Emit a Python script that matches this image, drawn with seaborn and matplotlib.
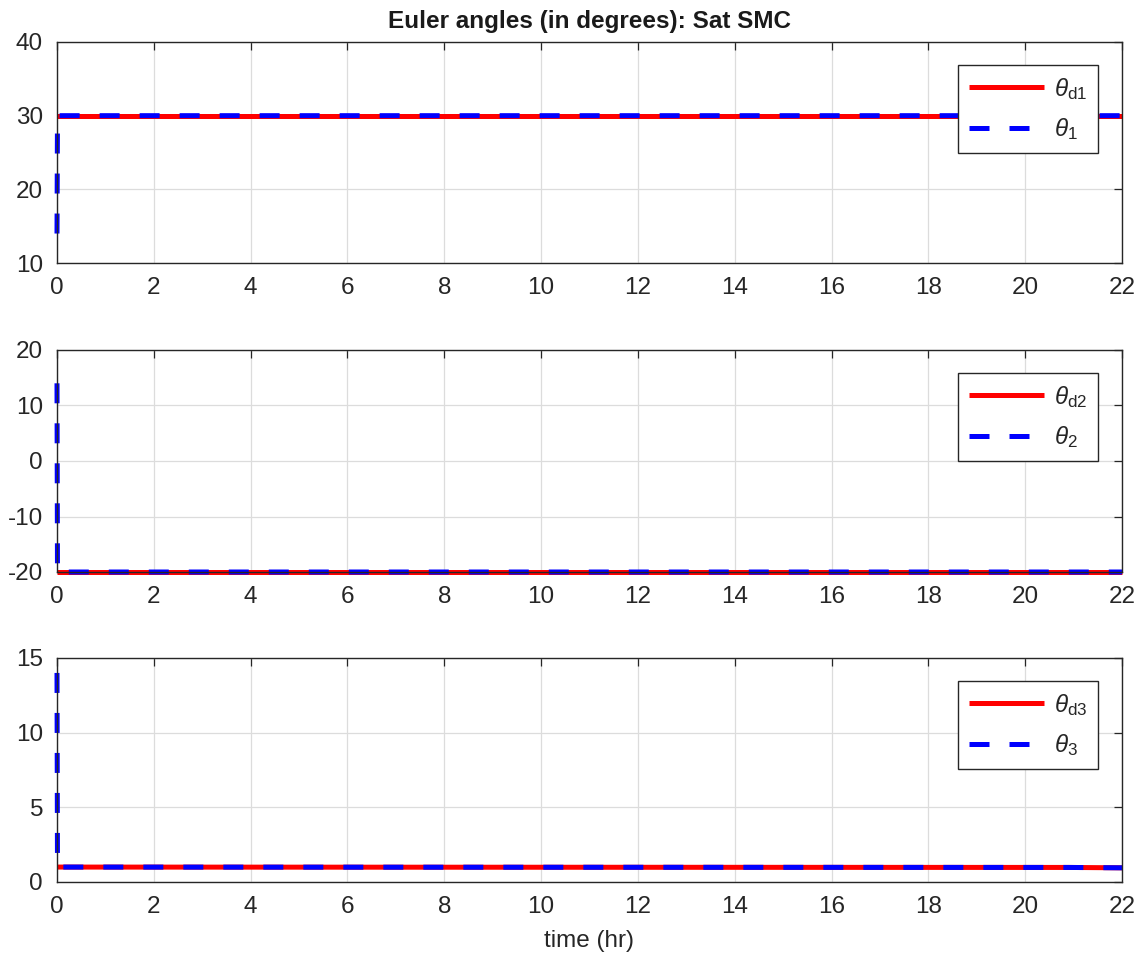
import numpy as np
import pandas as pd
import matplotlib
matplotlib.use("Agg")
import matplotlib.pyplot as plt
import seaborn as sns

# Time grid (hours) for desired and actual attitude
t_des = [0.0, 22.0]
t_act = [0.0, 0.01, 22.0]
t_des3 = [0.0, 20.9, 20.9, 22.0]
t_act3 = [0.0, 0.01, 20.9, 20.9, 22.0]

# Euler angles (degrees)
theta_d1 = [30.0, 30.0]
theta_1 = [14.0, 30.0, 30.0]
theta_d2 = [-20.0, -20.0]
theta_2 = [14.0, -20.0, -20.0]
theta_d3 = [1.0, 1.0, 0.95, 0.95]
theta_3 = [14.0, 1.0, 1.0, 0.95, 0.95]

ylims = [(10, 40), (-20, 20), (0, 15)]
yticks = [[10, 20, 30, 40], [-20, -10, 0, 10, 20], [0, 5, 10, 15]]
xticks = list(range(0, 23, 2))
labels_d = [r"$\theta_{\rm d1}$", r"$\theta_{\rm d2}$", r"$\theta_{\rm d3}$"]
labels_a = [r"$\theta_{1}$", r"$\theta_{2}$", r"$\theta_{3}$"]

sns.set_theme(style="white")
plt.rcParams["font.family"] = ["Liberation Sans", "DejaVu Sans"]
plt.rcParams["mathtext.fontset"] = "custom"
plt.rcParams["mathtext.it"] = "Liberation Sans:italic"
plt.rcParams["mathtext.rm"] = "Liberation Sans"
plt.rcParams["axes.unicode_minus"] = False

W, H = 1145, 960
fig = plt.figure(figsize=(W / 100, H / 100), dpi=100)

# axes boxes in pixels: (top, bottom)
boxes = [(42, 263), (350, 572), (658, 882)]
left_px, right_px = 57, 1122

series = [
    (t_des, theta_d1, t_act, theta_1),
    (t_des, theta_d2, t_act, theta_2),
    (t_des3, theta_d3, t_act3, theta_3),
]

edge = "#262626"
fs = 17.5
for i, ((top, bot), (td, yd, ta, ya)) in enumerate(zip(boxes, series)):
    ax = fig.add_axes([left_px / W, (H - bot) / H,
                       (right_px - left_px) / W, (bot - top) / H])
    df_d = pd.DataFrame({"t": td, "v": yd})
    df_a = pd.DataFrame({"t": ta, "v": ya})
    sns.lineplot(data=df_d, x="t", y="v", ax=ax, color="#ff0000", lw=3.6,
                 sort=False, label=labels_d[i], solid_capstyle="butt",
                 clip_on=False)
    sns.lineplot(data=df_a, x="t", y="v", ax=ax, color="#0000ff", lw=3.6,
                 sort=False, label=labels_a[i], linestyle=(0, (4, 4)),
                 dash_capstyle="butt", clip_on=False)
    ax.set_xlim(0, 22)
    ax.set_ylim(*ylims[i])
    ax.set_xticks(xticks)
    ax.set_yticks(yticks[i])
    ax.grid(True, color="#dcdcdc", lw=0.9)
    ax.set_axisbelow(True)
    for s in ax.spines.values():
        s.set_color(edge)
        s.set_linewidth(1.0)
        s.set_visible(True)
    ax.tick_params(direction="in", length=6, width=0.9, colors=edge,
                   labelsize=fs, top=True, right=True,
                   labelcolor="#262626")
    ax.tick_params(axis="x", pad=10)
    ax.tick_params(axis="y", pad=10)
    ax.set_xlabel("")
    ax.set_ylabel("")
    axw = right_px - left_px
    axh = bot - top
    leg = ax.legend(loc="upper right",
                    bbox_to_anchor=(1 - 24 / axw, 1 - 23 / axh),
                    borderaxespad=0, fontsize=fs, frameon=True,
                    fancybox=False, framealpha=1, edgecolor=edge,
                    handlelength=3.1, handletextpad=0.4, labelspacing=0.6,
                    borderpad=0.45)
    leg.get_frame().set_linewidth(1.0)
    if i == 0:
        ax.set_title("Euler angles (in degrees): Sat SMC", fontsize=17.5,
                     fontweight="bold", pad=10, color="#1a1a1a")
    if i == 2:
        ax.set_xlabel("time (hr)", fontsize=fs, color="#262626", labelpad=9)

fig.savefig("out.png", dpi=100)
